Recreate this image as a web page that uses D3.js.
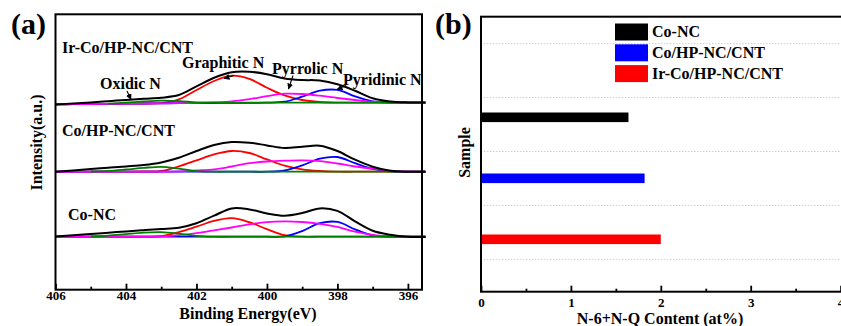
<!DOCTYPE html>
<html>
<head>
<meta charset="utf-8">
<script src="https://cdn.jsdelivr.net/npm/d3@7"></script>
<style>
  html, body { margin: 0; padding: 0; background: #fff; }
  svg { display: block; }
  text { font-family: "Liberation Serif", "Times New Roman", serif; font-weight: bold; fill: #000; }
</style>
</head>
<body>
<svg id="chart" width="841" height="326"></svg>
<script>
// ---------- (a) N 1s spectra, read at 0.5 eV steps (a.u. above each baseline) ----------
const energies = [406, 405.5, 405, 404.5, 404, 403.5, 403, 402.5, 402, 401.5, 401, 400.5,
                  400, 399.5, 399, 398.5, 398, 397.5, 397, 396.5, 396, 395.5];

// Ir-Co/HP-NC/CNT
const irEnvelope  = [-1.7, -0.8, 0.2, 1.5, 2.8, 4.0, 5.0, 7.7, 16.3, 25.0, 30.5, 31.0, 28.5, 24.3, 22.7, 22.2, 18.5, 12.0, 4.5, 1.2, 0.3, 0.3];
const irGraphitic = [-1.7, -1.5, -1.3, -1.1, -1.0, -0.8, -0.4, 3.3, 12.7, 21.7, 27.0, 23.8, 15.0, 7.3, 2.7, 0.7, 0.1, 0, 0, 0, 0, 0];
const irPyrrolic  = [-1.7, -1.5, -1.3, -1.1, -1.0, -0.8, -0.6, -0.4, -0.1, 0.5, 1.4, 3.6, 6.5, 9.0, 8.7, 7.0, 4.7, 2.7, 1.0, 0.3, 0, 0];
const irPyridinic = [-1.7, -1.5, -1.3, -1.1, -1.0, -0.8, -0.6, -0.5, -0.4, -0.3, -0.2, -0.1, 0, 1.0, 6.0, 12.0, 12.8, 6.3, 1.3, 0.2, 0, 0];
const irOxidic    = [null, null, null, -0.9, 0.0, 1.2, 2.0, 1.6, 0.3, -0.2, -0.1, 0, 0, 0, 0, 0, 0, 0, 0, 0, 0, 0];

// Co/HP-NC/CNT
const coEnvelope  = [0, 1.3, 2.7, 4.0, 5.3, 6.7, 9.3, 14.0, 20.7, 26.7, 29.7, 29.0, 26.3, 23.7, 25.0, 26.0, 20.7, 12.0, 5.0, 1.0, 0, 0];
const coGraphitic = [0, 0, 0, 0, 0, 0.2, 0.7, 5.3, 11.3, 17.3, 20.7, 18.7, 12.3, 6.0, 2.3, 0.7, 0, 0, 0, 0, 0, 0];
const coPyrrolic  = [0, 0, 0, 0, 0, 0, 0, 0.3, 1.2, 2.3, 5.2, 8.5, 10.2, 11.0, 11.3, 10.6, 8.2, 5.2, 3.0, 1.0, 0.2, 0];
const coPyridinic = [0, 0, 0, 0, 0, 0, 0, 0, 0, 0, 0, 0, 0, 1.2, 6.3, 13.0, 14.7, 8.5, 2.8, 0.3, 0, 0];
const coOxidic    = [null, null, 0.2, 0.8, 2.2, 3.8, 4.9, 3.0, 0.6, 0, 0, 0, 0, 0, 0, 0, 0, 0, 0, 0, 0, 0];

// Co-NC
const ncEnvelope  = [0.3, 1.5, 2.7, 4.0, 5.3, 6.5, 7.7, 9.0, 13.5, 21.0, 28.3, 27.3, 23.3, 21.0, 23.7, 28.3, 25.8, 15.3, 6.0, 2.0, 0, -0.3];
const ncGraphitic = [0, 0, 0, 0, 0, 0.1, 0.5, 4.5, 10.0, 15.8, 18.5, 14.5, 7.5, 1.5, 0, 0, 0, 0, 0, 0, 0, 0];
const ncPyrrolic  = [0, 0, 0, 0, 0, 0.1, 0.4, 1.5, 3.5, 6.3, 9.2, 12.3, 14.6, 15.3, 14.7, 12.9, 9.8, 5.0, 1.9, 0.2, 0, 0];
const ncPyridinic = [0, 0, 0, 0, 0, 0, 0, 0, 0, 0, 0, 0, 0, 0.3, 5.6, 13.5, 14.8, 7.3, 1.3, 0, 0, 0];
const ncOxidic    = [null, null, 0.2, 1.0, 2.5, 4.0, 4.5, 3.0, 0.8, 0, 0, 0, 0, 0, 0, 0, 0, 0, 0, 0, 0, 0];

// vertical stacking offsets (a.u.) for the three spectra
const spectrumNames   = ["Ir-Co/HP-NC/CNT", "Co/HP-NC/CNT", "Co-NC"];
const spectrumOffsets = [187, 118, 53];

const energyTicks      = [406, 404, 402, 400, 398, 396];
const energyMinorTicks = [405, 403, 401, 399, 397];

// ---------- (b) N-6 + N-Q content ----------
const contentSamples = ["Co-NC", "Co/HP-NC/CNT", "Ir-Co/HP-NC/CNT"];
const contentValues  = [1.64, 1.82, 2.00];
const contentColors  = ["#000000", "#0000ff", "#ff0000"];
const contentTicks      = [0, 1, 2, 3, 4];
const contentMinorTicks = [0.5, 1.5, 2.5, 3.5];
const sampleGridValues  = [0.6, 1.6, 2.6, 3.6, 4.6];

const svg = d3.select("#chart");

// arrowhead for the peak annotations
svg.append("defs").append("marker")
  .attr("id", "arrowhead")
  .attr("viewBox", "0 0 6 6")
  .attr("refX", 5.5).attr("refY", 3)
  .attr("markerWidth", 6).attr("markerHeight", 6)
  .attr("markerUnits", "userSpaceOnUse")
  .attr("orient", "auto")
  .append("path").attr("d", "M0,0 L6,3 L0,6 Z").attr("fill", "#000");

function styleTickText(g) {
  g.attr("font-family", null).attr("font-size", null);
  g.selectAll("text")
    .attr("fill", "#000")
    .style("font-family", "'Liberation Serif', 'Times New Roman', serif")
    .style("font-weight", "bold")
    .style("font-size", "13px");
}

// ================= Panel (a) =================
const A = { left: 55.5, right: 422, top: 14.3, bottom: 289.7 };
const xA = d3.scaleLinear().domain([406, 395.6]).range([A.left, A.right]);
const yA = d3.scaleLinear().domain([0, A.bottom - A.top]).range([A.bottom, A.top]);

const spectra = [
  { env: irEnvelope, comps: [irGraphitic, irPyridinic, irPyrrolic, irOxidic] },
  { env: coEnvelope, comps: [coGraphitic, coPyridinic, coPyrrolic, coOxidic] },
  { env: ncEnvelope, comps: [ncGraphitic, ncPyridinic, ncPyrrolic, ncOxidic] }
];
const compColors = ["#ff0000", "#0000ff", "#ff00ff", "#008000"];

const gA = svg.append("g");
const plotA = gA.append("g");

spectra.forEach((s, i) => {
  const off = spectrumOffsets[i];
  const line = d3.line()
    .defined(d => d[1] !== null)
    .x(d => xA(d[0]))
    .y(d => yA(d[1] + off))
    .curve(d3.curveCatmullRom.alpha(0.5));
  s.comps.forEach((vals, k) => {
    plotA.append("path")
      .datum(energies.map((e, j) => [e, vals[j]]))
      .attr("d", line)
      .attr("fill", "none")
      .attr("stroke", compColors[k])
      .attr("stroke-width", 1.8);
  });
  plotA.append("path")
    .datum(energies.map((e, j) => [e, s.env[j]]))
    .attr("d", line)
    .attr("fill", "none")
    .attr("stroke", "#000")
    .attr("stroke-width", 2);
});

// axis ticks (inward)
gA.append("g").attr("transform", `translate(0,${A.bottom})`)
  .call(d3.axisBottom(xA).tickValues(energyTicks).tickSize(-6).tickPadding(1.5).tickFormat(d3.format("d")))
  .call(g => g.select(".domain").remove())
  .call(g => g.selectAll("line").attr("stroke-width", 1.8))
  .call(styleTickText);
gA.append("g").attr("transform", `translate(0,${A.bottom})`)
  .call(d3.axisBottom(xA).tickValues(energyMinorTicks).tickSize(-3).tickFormat(""))
  .call(g => g.select(".domain").remove())
  .call(g => g.selectAll("line").attr("stroke-width", 1.8));

gA.append("rect")
  .attr("x", A.left).attr("y", A.top)
  .attr("width", A.right - A.left).attr("height", A.bottom - A.top)
  .attr("fill", "none").attr("stroke", "#000").attr("stroke-width", 2);

// labels
gA.append("text").attr("x", 11).attr("y", 34).attr("font-size", 30).text("(a)");
gA.append("text").attr("x", 248).attr("y", 318.5).attr("text-anchor", "middle").attr("font-size", 16).text("Binding Energy(eV)");
gA.append("text").attr("transform", "translate(42,142.5) rotate(-90)").attr("text-anchor", "middle").attr("font-size", 16).text("Intensity(a.u.)");

gA.append("text").attr("x", 62).attr("y", 53).attr("font-size", 16).text(spectrumNames[0]);
gA.append("text").attr("x", 62).attr("y", 136).attr("font-size", 16).text(spectrumNames[1]);
gA.append("text").attr("x", 68).attr("y", 220).attr("font-size", 16).text(spectrumNames[2]);

gA.append("text").attr("x", 182).attr("y", 68).attr("font-size", 16).text("Graphitic N");
gA.append("text").attr("x", 272).attr("y", 74).attr("font-size", 16).text("Pyrrolic N");
gA.append("text").attr("x", 343).attr("y", 84.5).attr("font-size", 16).text("Pyridinic N");
gA.append("text").attr("x", 100).attr("y", 88.5).attr("font-size", 16).text("Oxidic N");

const arrows = [
  [[127, 91], [131, 99.5]],
  [[234, 75.5], [224, 78.5]],
  [[293, 75.5], [288.5, 89]],
  [[346, 85.5], [337, 89.5]]
];
arrows.forEach(([p, q]) => {
  gA.append("line")
    .attr("x1", p[0]).attr("y1", p[1]).attr("x2", q[0]).attr("y2", q[1])
    .attr("stroke", "#000").attr("stroke-width", 1.1)
    .attr("marker-end", "url(#arrowhead)");
});

// ================= Panel (b) =================
const B = { left: 481, right: 842, top: 16.7, bottom: 291.7 };
const xB = d3.scaleLinear().domain([0, 4]).range([B.left, 840.6]);
const yGrid = d3.scaleLinear().domain([0, 5.1]).range([B.bottom, B.top]);
const yBar = d3.scalePoint().domain(contentSamples).range([117.3, 239.3]);

const gB = svg.append("g");

gB.selectAll("line.grid").data(sampleGridValues).enter().append("line")
  .attr("class", "grid")
  .attr("x1", B.left).attr("x2", B.right)
  .attr("y1", d => yGrid(d)).attr("y2", d => yGrid(d))
  .attr("stroke", "#cfcfcf").attr("stroke-width", 1).attr("stroke-dasharray", "1.5,1.5");

const barH = 9.6;
gB.selectAll("rect.bar").data(contentSamples).enter().append("rect")
  .attr("class", "bar")
  .attr("x", xB(0))
  .attr("y", d => yBar(d) - barH / 2)
  .attr("width", (d, i) => xB(contentValues[i]) - xB(0))
  .attr("height", barH)
  .attr("fill", (d, i) => contentColors[i]);

gB.append("g").attr("transform", `translate(0,${B.bottom})`)
  .call(d3.axisBottom(xB).tickValues(contentTicks).tickSize(-6).tickPadding(6.5).tickFormat(d3.format("d")))
  .call(g => g.select(".domain").remove())
  .call(g => g.selectAll("line").attr("stroke-width", 1.8))
  .call(styleTickText);
gB.append("g").attr("transform", `translate(0,${B.bottom})`)
  .call(d3.axisBottom(xB).tickValues(contentMinorTicks).tickSize(-3).tickFormat(""))
  .call(g => g.select(".domain").remove())
  .call(g => g.selectAll("line").attr("stroke-width", 1.8));

gB.append("rect")
  .attr("x", B.left).attr("y", B.top)
  .attr("width", B.right - B.left).attr("height", B.bottom - B.top)
  .attr("fill", "none").attr("stroke", "#000").attr("stroke-width", 2);

// legend
const legend = gB.append("g");
contentSamples.forEach((name, i) => {
  legend.append("rect")
    .attr("x", 615).attr("y", 23.5 + i * 20.8)
    .attr("width", 33).attr("height", 17)
    .attr("fill", contentColors[i]);
  legend.append("text")
    .attr("x", 652).attr("y", 37 + i * 20.8)
    .attr("font-size", 16).text(name);
});

gB.append("text").attr("x", 435).attr("y", 34).attr("font-size", 30).text("(b)");
gB.append("text").attr("x", 660).attr("y", 323.5).attr("text-anchor", "middle").attr("font-size", 16).text("N-6+N-Q Content (at%)");
gB.append("text").attr("transform", "translate(470,152.5) rotate(-90)").attr("text-anchor", "middle").attr("font-size", 16).text("Sample");
</script>
</body>
</html>
